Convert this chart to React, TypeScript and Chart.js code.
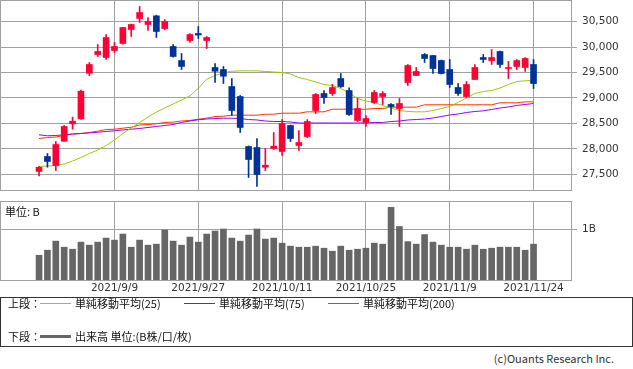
import React, { useEffect, useRef } from "react";
import { Chart, registerables } from "chart.js";

Chart.register(...registerables);

// ---- data ----
const dates = [
  "2021/8/27", "2021/8/30", "2021/8/31", "2021/9/1", "2021/9/2", "2021/9/3", "2021/9/6", "2021/9/7", "2021/9/8", "2021/9/9",
  "2021/9/10", "2021/9/13", "2021/9/14", "2021/9/15", "2021/9/16", "2021/9/17", "2021/9/21", "2021/9/22", "2021/9/24", "2021/9/27",
  "2021/9/28", "2021/9/29", "2021/9/30", "2021/10/1", "2021/10/4", "2021/10/5", "2021/10/6", "2021/10/7", "2021/10/8", "2021/10/11",
  "2021/10/12", "2021/10/13", "2021/10/14", "2021/10/15", "2021/10/18", "2021/10/19", "2021/10/20", "2021/10/21", "2021/10/22", "2021/10/25",
  "2021/10/26", "2021/10/27", "2021/10/28", "2021/10/29", "2021/11/1", "2021/11/2", "2021/11/4", "2021/11/5", "2021/11/8", "2021/11/9",
  "2021/11/10", "2021/11/11", "2021/11/12", "2021/11/15", "2021/11/16", "2021/11/17", "2021/11/18", "2021/11/19", "2021/11/22", "2021/11/24",
];

const tickDates = ["2021/9/9", "2021/9/27", "2021/10/11", "2021/10/25", "2021/11/9", "2021/11/24"];

const opens = [
  27560, 27853, 27676, 28153, 28494, 28592, 29486, 29853, 29794, 29931,
  30069, 30343, 30559, 30441, 30611, 30363, 30010, 29735, 30127, 30265,
  30127, 29598, 29559, 29225, 29029, 28049, 28029, 27643, 28010, 27951,
  28461, 28069, 28245, 28755, 29088, 29088, 29382, 29147, 28559, 28520,
  28912, 29029, 28873, 28794, 29304, 29441, 29853, 29833, 29735, 29559,
  29206, 29029, 29363, 29794, 29735, 29912, 29578, 29618, 29598, 29657,
];
const highs = [
  27660, 27912, 28147, 28461, 28624, 29153, 29696, 30049, 30245, 30088,
  30388, 30450, 30794, 30578, 30624, 30539, 30049, 29873, 30265, 30402,
  30206, 29676, 29618, 29382, 29049, 28060, 28206, 28010, 28324, 28578,
  28470, 28363, 28578, 29088, 29147, 29265, 29480, 29200, 28990, 28657,
  29147, 29127, 28892, 28990, 29657, 29598, 29873, 29833, 29745, 29755,
  29284, 29324, 29657, 29853, 29951, 29920, 29716, 29755, 29794, 29755,
];
const lows = [
  27470, 27643, 27578, 28150, 28388, 28578, 29441, 29814, 29755, 29892,
  30055, 30206, 30480, 30324, 30186, 30343, 29800, 29559, 30088, 30167,
  29971, 29304, 29284, 28657, 28324, 27441, 27265, 27578, 27990, 27873,
  28147, 27971, 28225, 28696, 28892, 29049, 29206, 28657, 28539, 28441,
  28892, 28873, 28676, 28441, 29245, 29441, 29696, 29480, 29470, 29206,
  29049, 29010, 29363, 29696, 29657, 29598, 29382, 29559, 29520, 29186,
];
const closes = [
  27640, 27755, 28088, 28441, 28545, 29133, 29657, 29912, 30186, 30010,
  30382, 30441, 30676, 30500, 30304, 30500, 29814, 29618, 30245, 30235,
  30186, 29525, 29427, 28755, 28422, 27794, 27500, 27682, 28055, 28500,
  28206, 28127, 28539, 29069, 29010, 29206, 29225, 28676, 28794, 28598,
  29108, 29088, 28833, 28892, 29637, 29520, 29775, 29578, 29480, 29265,
  29088, 29265, 29598, 29755, 29794, 29657, 29598, 29735, 29775, 29284,
];

const ma25 = [
  27657, 27667, 27676, 27706, 27765, 27833, 27912, 27980, 28069, 28176,
  28304, 28412, 28520, 28627, 28725, 28804, 28882, 28961, 29040, 29190,
  29370, 29440, 29494, 29524, 29533, 29533, 29533, 29520, 29510, 29500,
  29471, 29402, 29363, 29314, 29265, 29245, 29186, 29098, 28990, 28941,
  28912, 28853, 28804, 28755, 28735, 28729, 28729, 28755, 28794, 28833,
  28912, 29000, 29088, 29127, 29147, 29196, 29265, 29324, 29337, 29343,
];
const ma75 = [
  28278, 28259, 28265, 28278, 28294, 28304, 28314, 28329, 28343, 28357,
  28373, 28388, 28402, 28422, 28441, 28461, 28480, 28520, 28549, 28573,
  28588, 28598, 28604, 28604, 28598, 28578, 28569, 28549, 28539, 28539,
  28529, 28510, 28510, 28510, 28510, 28510, 28510, 28510, 28510, 28510,
  28520, 28520, 28539, 28549, 28569, 28578, 28588, 28608, 28637, 28667,
  28686, 28716, 28735, 28749, 28775, 28804, 28824, 28853, 28873, 28892,
];
const ma200 = [
  28206, 28225, 28235, 28265, 28294, 28304, 28324, 28349, 28382, 28388,
  28408, 28427, 28471, 28480, 28494, 28520, 28527, 28549, 28559, 28584,
  28604, 28637, 28643, 28663, 28663, 28663, 28663, 28682, 28682, 28702,
  28702, 28702, 28729, 28729, 28729, 28780, 28780, 28780, 28780, 28780,
  28794, 28794, 28820, 28820, 28820, 28820, 28867, 28867, 28867, 28867,
  28867, 28867, 28867, 28867, 28867, 28906, 28906, 28906, 28925, 28925,
];

// volume in billions of shares
const volumes = [
  0.49, 0.59, 0.77, 0.65, 0.61, 0.75, 0.69, 0.75, 0.83, 0.79,
  0.91, 0.65, 0.79, 0.69, 0.71, 0.99, 0.77, 0.69, 0.85, 0.75,
  0.91, 0.97, 1.01, 0.83, 0.77, 0.89, 1.01, 0.81, 0.83, 0.73,
  0.67, 0.65, 0.65, 0.67, 0.63, 0.57, 0.67, 0.59, 0.61, 0.63,
  0.73, 0.71, 1.44, 1.06, 0.76, 0.71, 0.90, 0.75, 0.69, 0.65,
  0.65, 0.61, 0.69, 0.61, 0.63, 0.65, 0.65, 0.65, 0.59, 0.71,
];

const priceTicks = [27500, 28000, 28500, 29000, 29500, 30000, 30500];
const volumeTicks = [1];

// ---- styles ----
const UP = "#ff0033";
const DOWN = "#003399";
const GRID = "#a0a0a0";
const TEXT = "#333333";
const AXIS_FONT = { family: "'DejaVu Sans', sans-serif", size: 10.5 };
const JP_FONT = "'Noto Sans CJK JP', 'Noto Sans', sans-serif";

const X_MIN = -4.54;
const X_MAX = 63.47;

const tickIndex = tickDates.map((d) => dates.indexOf(d));

const boxPlugin = {
  id: "plotBox",
  afterDraw(chart: any) {
    const { ctx, chartArea } = chart;
    const { left, top, right, bottom } = chartArea;
    ctx.save();
    ctx.strokeStyle = GRID;
    ctx.lineWidth = 1;
    ctx.strokeRect(left - 0.5, top - 0.5, right - left + 1, bottom - top + 1);
    ctx.restore();
  },
};

function xScale(showLabels: boolean) {
  return {
    type: "linear",
    min: X_MIN,
    max: X_MAX,
    offset: false,
    afterBuildTicks: (s: any) => {
      s.ticks = tickIndex.map((v) => ({ value: v }));
    },
    ticks: {
      display: showLabels,
      autoSkip: false,
      maxRotation: 0,
      padding: 2,
      color: TEXT,
      font: AXIS_FONT,
      callback: (v: any) => dates[Math.round(Number(v))] ?? "",
    },
    grid: { color: GRID, drawTicks: false, lineWidth: 1, offset: false },
    border: { display: false },
    afterFit: (s: any) => {
      s.height = showLabels ? 16 : 0;
      s.paddingLeft = 0;
      s.paddingRight = 0;
    },
  };
}

function rightAxis(min: number, max: number, ticks: number[], fmt: (v: number) => string) {
  return {
    type: "linear",
    position: "right",
    min,
    max,
    afterBuildTicks: (s: any) => {
      s.ticks = ticks.map((v) => ({ value: v }));
    },
    ticks: {
      color: TEXT,
      font: AXIS_FONT,
      padding: 5,
      callback: (v: any) => fmt(Number(v)),
    },
    grid: { color: GRID, tickLength: 6, lineWidth: 1 },
    border: { display: false },
    afterFit: (s: any) => {
      s.width = 62;
      s.paddingTop = 0;
      s.paddingBottom = 0;
    },
  };
}

export default function App() {
  const priceRef = useRef<HTMLCanvasElement>(null);
  const volRef = useRef<HTMLCanvasElement>(null);

  useEffect(() => {
    document.body.style.margin = "0";
    const candleColors = opens.map((o, i) => (closes[i] >= o ? UP : DOWN));

    const price = new Chart(priceRef.current as HTMLCanvasElement, {
      type: "bar",
      data: {
        datasets: [
          {
            type: "line",
            label: "単純移動平均(25)",
            data: ma25.map((v, i) => ({ x: i, y: v })),
            borderColor: "#99cc00",
            borderWidth: 1,
            pointRadius: 0,
            tension: 0,
            order: 3,
          },
          {
            type: "line",
            label: "単純移動平均(75)",
            data: ma75.map((v, i) => ({ x: i, y: v })),
            borderColor: "#9900ff",
            borderWidth: 1,
            pointRadius: 0,
            tension: 0,
            order: 3,
          },
          {
            type: "line",
            label: "単純移動平均(200)",
            data: ma200.map((v, i) => ({ x: i, y: v })),
            borderColor: "#ff3300",
            borderWidth: 1,
            pointRadius: 0,
            tension: 0,
            order: 3,
          },
          {
            type: "bar",
            label: "wick",
            data: highs.map((h, i) => ({ x: i, y: [lows[i], h] })),
            backgroundColor: candleColors,
            barThickness: 1,
            grouped: false,
            order: 1,
          },
          {
            type: "bar",
            label: "body",
            data: opens.map((o, i) => ({ x: i, y: [o, closes[i]] })),
            backgroundColor: candleColors,
            barThickness: 6,
            minBarLength: 1,
            grouped: false,
            order: 0,
          },
        ] as any,
      },
      options: {
        animation: false,
        responsive: false,
        maintainAspectRatio: false,
        layout: { padding: { left: 1, top: 1, right: 0, bottom: 1 } },
        plugins: { legend: { display: false }, tooltip: { enabled: false } },
        scales: {
          x: xScale(false) as any,
          y: rightAxis(27196, 30902, priceTicks, (v) => v.toLocaleString("en-US")) as any,
        },
      },
      plugins: [boxPlugin],
    });

    const vol = new Chart(volRef.current as HTMLCanvasElement, {
      type: "bar",
      data: {
        datasets: [
          {
            label: "出来高",
            data: volumes.map((v, i) => ({ x: i, y: v })),
            backgroundColor: "#666666",
            barThickness: 6,
            grouped: false,
          },
        ] as any,
      },
      options: {
        animation: false,
        responsive: false,
        maintainAspectRatio: false,
        layout: { padding: { left: 1, top: 6, right: 0, bottom: 0 } },
        plugins: { legend: { display: false }, tooltip: { enabled: false } },
        scales: {
          x: xScale(true) as any,
          y: rightAxis(0, 1.545, volumeTicks, (v) => `${v}B`) as any,
        },
      },
      plugins: [boxPlugin],
    });

    return () => {
      price.destroy();
      vol.destroy();
    };
  }, []);

  const abs = (s: React.CSSProperties): React.CSSProperties => ({ position: "absolute", ...s });
  const jp: React.CSSProperties = {
    fontFamily: JP_FONT,
    fontSize: 11,
    lineHeight: "12px",
    color: "#111",
    whiteSpace: "nowrap",
  };

  return (
    <div style={abs({ left: 0, top: 0, width: 633, height: 369, background: "#fff", overflow: "hidden" })}>
      <canvas ref={priceRef} width={633} height={191} style={abs({ left: 0, top: 0, width: 633, height: 191 })} />
      <canvas ref={volRef} width={633} height={100} style={abs({ left: 0, top: 196, width: 633, height: 100 })} />
      <div style={abs({ ...jp, left: 5, top: 205 })}>単位: B</div>

      <div
        style={abs({
          left: 0,
          top: 297,
          width: 633,
          height: 50,
          border: "1px solid #333",
          boxSizing: "border-box",
        })}
      />
      <div style={abs({ ...jp, left: 8, top: 297 })}>上段：</div>
      <div style={abs({ left: 40, top: 303, width: 31, height: 1, background: "#99cc00" })} />
      <div style={abs({ ...jp, left: 75, top: 297 })}>単純移動平均(25)</div>
      <div style={abs({ left: 184, top: 303, width: 31, height: 1, background: "#9900ff" })} />
      <div style={abs({ ...jp, left: 219, top: 297 })}>単純移動平均(75)</div>
      <div style={abs({ left: 328, top: 303, width: 31, height: 1, background: "#ff3300" })} />
      <div style={abs({ ...jp, left: 363, top: 297 })}>単純移動平均(200)</div>

      <div style={abs({ ...jp, left: 8, top: 330 })}>下段：</div>
      <div style={abs({ left: 40, top: 335, width: 31, height: 3, background: "#666666" })} />
      <div style={abs({ ...jp, left: 75, top: 330 })}>出来高 単位:(B株/口/枚)</div>

      <div style={abs({ ...jp, color: "#333", right: 19, top: 352 })}>(c)Ouants Research Inc.</div>
    </div>
  );
}
